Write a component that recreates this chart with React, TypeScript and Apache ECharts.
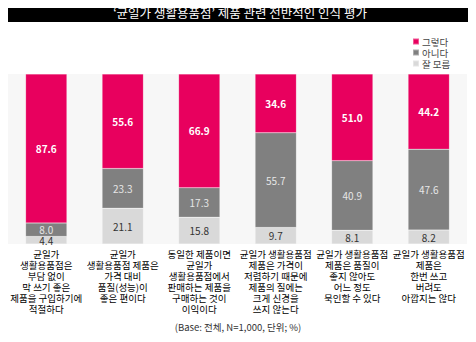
import React, { useEffect, useRef } from "react";
import * as echarts from "echarts";

const categories = [
  "균일가\n생활용품점은\n부담 없이\n막 쓰기 좋은\n제품을 구입하기에\n적절하다",
  "균일가\n생활용품점 제품은\n가격 대비\n품질(성능)이\n좋은 편이다",
  "동일한 제품이면\n균일가\n생활용품점에서\n판매하는 제품을\n구매하는 것이\n이익이다",
  "균일가 생활용품점\n제품은 가격이\n저렴하기 때문에\n제품의 질에는\n크게 신경을\n쓰지 않는다",
  "균일가 생활용품점\n제품은 품질이\n좋지 않아도\n어느 정도\n묵인할 수 있다",
  "균일가 생활용품점\n제품은\n한번 쓰고\n버려도\n아깝지는 않다",
];
const seriesNames = ["그렇다", "아니다", "잘 모름"];
const yesValues = [87.6, 55.6, 66.9, 34.6, 51.0, 44.2];
const noValues = [8.0, 23.3, 17.3, 55.7, 40.9, 47.6];
const unknownValues = [4.4, 21.1, 15.8, 9.7, 8.1, 8.2];
const titleText = "‘균일가 생활용품점’ 제품 관련 전반적인 인식 평가";
const baseText = "(Base: 전체, N=1,000, 단위; %)";

const FONT = "'Noto Sans CJK KR', 'Noto Sans', sans-serif";

export default function App() {
  const ref = useRef<HTMLDivElement>(null);
  useEffect(() => {
    if (!ref.current) return;
    const chart = echarts.init(ref.current, undefined, { renderer: "svg" });
    const mk = (name: string, data: number[], color: string, labelColor: string, bold: boolean) => ({
      name,
      type: "bar",
      stack: "total",
      data,
      barWidth: "54%",
      itemStyle: { color, borderColor: "rgba(255,255,255,0.35)", borderWidth: 0.5 },
      label: {
        show: true,
        position: "inside",
        formatter: (p: any) => Number(p.value).toFixed(1),
        color: labelColor,
        fontSize: 10,
        fontWeight: bold ? "bold" : "normal",
        fontFamily: FONT,
      },
    });
    chart.setOption({
      animation: false,
      textStyle: { fontFamily: FONT },
      graphic: [
        { type: "rect", shape: { x: 5, y: 3, width: 465, height: 19 }, style: { fill: "#000" } },
        {
          type: "text",
          x: 240,
          y: 12.5,
          style: { text: titleText, fill: "#fff", fontSize: 12.5, fontFamily: FONT, align: "center", verticalAlign: "middle" },
        },
        {
          type: "text",
          x: 238,
          y: 327,
          style: { text: baseText, fill: "#333", fontSize: 9.5, fontFamily: FONT, align: "center", verticalAlign: "middle" },
        },
      ],
      legend: {
        orient: "vertical",
        left: 407,
        top: 31,
        itemWidth: 6,
        itemHeight: 6,
        itemGap: 0,
        icon: "rect",
        data: seriesNames,
        textStyle: { fontSize: 9.5, lineHeight: 11, color: "#444", fontFamily: FONT, padding: [0, 0, 0, -2] },
      },
      grid: { left: 8, right: 9, top: 74, bottom: 98, show: true, backgroundColor: "#f7f7f7", borderWidth: 0 },
      xAxis: {
        type: "category",
        data: categories,
        axisLine: { show: false },
        axisTick: { show: false },
        axisLabel: { interval: 0, fontSize: 9.5, lineHeight: 11, color: "#000", margin: 4, fontFamily: FONT },
      },
      yAxis: { type: "value", min: 0, max: 100, show: false, splitLine: { show: false } },
      series: [
        mk(seriesNames[2], unknownValues, "#d9d9d9", "#333", false),
        mk(seriesNames[1], noValues, "#808080", "#e6e6e6", false),
        mk(seriesNames[0], yesValues, "#e8005e", "#fff", true),
      ],
    });
    return () => chart.dispose();
  }, []);
  return <div ref={ref} style={{ width: 476, height: 342, margin: -8 }} />;
}
